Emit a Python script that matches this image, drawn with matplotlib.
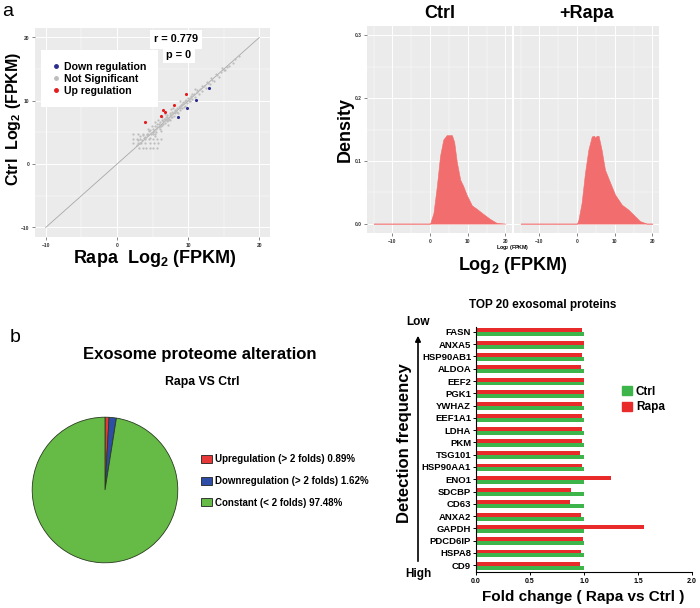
import numpy as np
import matplotlib
matplotlib.use('Agg')
import matplotlib.pyplot as plt
from matplotlib.patches import Patch
from matplotlib.lines import Line2D

plt.rcParams['font.family'] = ['Liberation Sans', 'DejaVu Sans']
plt.rcParams['font.weight'] = 'bold'
plt.rcParams['mathtext.default'] = 'regular'

# ---- panel a: scatter (Rapa vs Ctrl, log2 FPKM) ----
grey_x = [4.2, 4.5, 4.8, 5.0, 5.2, 5.4, 5.5, 5.7, 5.9, 6.0, 6.1, 6.3, 6.4, 6.6, 6.7, 6.9, 7.0, 7.1,
          7.3, 7.4, 7.5, 7.7, 7.8, 8.0, 8.1, 8.2, 8.4, 8.5, 8.7, 8.8, 9.0, 9.1, 9.3, 9.5, 9.6, 9.8,
          10.0, 10.2, 10.4, 10.6, 10.8, 11.0, 11.2, 11.5, 11.7, 12.0, 12.2, 12.5, 12.8, 13.1, 13.4,
          13.7, 14.0, 14.3, 14.6, 15.0, 15.4, 15.8, 16.3, 5.3, 6.2, 7.2, 4.6, 3.8, 3.5, 3.2, 6.8,
          7.9, 8.9, 10.9, 5.8, 4.9,
          4.0, 4.3, 4.7, 5.1, 5.6, 5.9, 6.2, 6.5, 6.8, 7.0, 7.2, 7.5, 7.8, 8.0, 8.3, 8.6, 8.9, 9.2,
          9.4, 9.7, 10.1, 10.5, 11.3, 11.9, 12.6, 13.2, 13.9, 14.8, 15.2, 16.6, 17.2, 5.0, 5.5, 6.0,
          6.5, 7.0, 7.6, 8.2, 8.8, 9.4, 10.3, 6.3, 5.4, 4.4, 7.6, 3.0, 3.3, 2.8, 3.7,
          2.3, 3.0, 3.6, 4.2, 4.8, 5.4,
          2.3, 2.8, 3.3, 3.9, 4.5, 5.1, 5.7, 6.2,
          2.3, 2.9, 3.4, 4.0, 4.6, 5.2, 5.8,
          3.1, 3.6, 4.1, 4.6, 5.1, 5.6]
grey_y = [4.6, 5.2, 4.9, 5.6, 5.3, 6.0, 5.1, 6.3, 5.8, 6.6, 5.5, 6.9, 6.2, 7.1, 6.5, 7.4, 6.8, 7.8,
          7.2, 8.0, 6.9, 7.9, 8.3, 7.6, 8.6, 8.1, 8.9, 8.3, 9.1, 8.6, 9.4, 8.9, 9.8, 9.2, 10.0, 9.6,
          10.4, 9.9, 10.7, 10.3, 11.1, 10.6, 11.4, 11.1, 11.9, 11.6, 12.3, 12.0, 12.8, 12.6, 13.3,
          13.1, 14.0, 13.8, 14.5, 14.8, 15.3, 15.5, 16.0, 4.4, 5.2, 6.2, 4.2, 4.1, 3.8, 3.3, 7.9,
          8.9, 9.9, 11.8, 6.9, 6.0,
          4.3, 4.8, 5.4, 4.8, 5.9, 6.4, 6.0, 6.8, 7.2, 7.5, 7.0, 7.7, 7.4, 8.2, 8.5, 8.0, 9.2, 9.5,
          9.0, 10.2, 10.0, 11.0, 11.7, 12.3, 12.9, 13.6, 14.3, 15.2, 14.9, 16.6, 17.0, 5.0, 5.5, 6.1,
          6.4, 7.1, 7.5, 8.3, 8.9, 9.6, 10.5, 7.5, 6.6, 5.6, 8.7, 3.8, 4.4, 3.1, 4.6,
          4.8, 4.8, 4.8, 4.8, 4.8, 4.8,
          4.0, 4.0, 4.0, 4.0, 4.0, 4.0, 4.0, 4.0,
          3.4, 3.4, 3.4, 3.4, 3.4, 3.4, 3.4,
          2.5, 2.5, 2.5, 2.5, 2.5, 2.5]
up_x = [4.0, 6.2, 6.5, 6.8, 8.0, 9.7]
up_y = [6.7, 7.6, 8.5, 8.2, 9.3, 11.1]
down_x = [8.6, 9.9, 11.1, 13.0]
down_y = [7.4, 8.9, 10.2, 12.0]

# ---- density curves ----
ctrl_dx = [-15, 0, 0.9, 1.8, 2.65, 3.5, 4.4, 5.8, 6.4, 7.1, 8.0, 8.8, 9.7, 11.1, 12.4, 14.1, 15.9, 17.7, 20]
ctrl_dy = [0, 0, 0.017, 0.06, 0.108, 0.134, 0.141, 0.141, 0.130, 0.098, 0.070, 0.060, 0.046, 0.029,
           0.0235, 0.0155, 0.0075, 0.001, 0]
rapa_dx = [-15, 0, 0.35, 1.2, 2.1, 3.0, 3.9, 4.5, 4.8, 5.2, 5.7, 6.5, 7.4, 8.8, 10.1, 11.9, 13.6, 15.4, 16.7, 18.5, 20]
rapa_dy = [0, 0, 0.006, 0.033, 0.081, 0.118, 0.139, 0.140, 0.137, 0.140, 0.140, 0.118, 0.086, 0.065,
           0.046, 0.030, 0.0224, 0.0117, 0.004, 0, 0]

# ---- panel b: pie ----
pie_labels = ['Upregulation (> 2 folds) 0.89%', 'Downregulation (> 2 folds) 1.62%',
              'Constant (< 2 folds) 97.48%']
pie_vals = [0.89, 1.62, 97.48]
pie_cols = ['#E8393A', '#2E4DA7', '#66BB46']

# ---- panel b: top 20 proteins ----
proteins = ['CD9', 'HSPA8', 'PDCD6IP', 'GAPDH', 'ANXA2', 'CD63', 'SDCBP', 'ENO1', 'HSP90AA1', 'TSG101',
            'PKM', 'LDHA', 'EEF1A1', 'YWHAZ', 'PGK1', 'EEF2', 'ALDOA', 'HSP90AB1', 'ANXA5', 'FASN']
rapa_fc = [0.96, 0.97, 0.99, 1.56, 0.97, 0.87, 0.88, 1.25, 0.98, 0.96,
           0.98, 0.98, 0.98, 0.98, 1.00, 1.00, 0.97, 0.98, 1.00, 0.98]
ctrl_fc = [1.0] * 20

W, H = 700, 608
fig = plt.figure(figsize=(7, 6.08), dpi=100)


def rect(l, t, r, b):
    return [l / W, 1 - b / H, (r - l) / W, (b - t) / H]


def gg(ax, xmaj, xmin, ymaj, ymin):
    ax.set_facecolor('#EBEBEB')
    ax.set_xticks(xmaj); ax.set_xticks(xmin, minor=True)
    ax.set_yticks(ymaj); ax.set_yticks(ymin, minor=True)
    ax.grid(True, which='major', color='white', lw=0.7)
    ax.grid(True, which='minor', color='white', lw=0.35)
    ax.set_axisbelow(True)
    for s in ax.spines.values(): s.set_visible(False)
    ax.tick_params(which='major', length=2, width=0.5, color='#555555', labelsize=3.5, pad=2,
                   labelcolor='#333333')
    ax.tick_params(which='minor', length=0)


# scatter
ax = fig.add_axes(rect(35, 28, 270, 237))
gg(ax, [-10, 0, 10, 20], [-5, 5, 15], [-10, 0, 10, 20], [-5, 5, 15])
ax.set_xlim(-11.5, 21.5); ax.set_ylim(-11.5, 21.5)
ax.plot([-10, 20], [-10, 20], color='#A8A8A8', lw=0.6, zorder=2)
ax.scatter(grey_x, grey_y, s=2.5, color='#BDBDBD', zorder=3, lw=0)
ax.scatter(up_x, up_y, s=5, color='#E41A1C', zorder=4, lw=0)
ax.scatter(down_x, down_y, s=5, color='#2B2D8C', zorder=4, lw=0)
hd = [Line2D([], [], ls='', marker='o', ms=2.5, color=c) for c in ['#2B2D8C', '#BDBDBD', '#E41A1C']]
ax.legend(hd, ['Down regulation', 'Not Significant', 'Up regulation'], loc='upper left',
          bbox_to_anchor=(41 / W, 1 - 50 / H), bbox_transform=fig.transFigure, frameon=True,
          fancybox=False, edgecolor='none', facecolor='white', framealpha=1, prop={'size': 7.6, 'weight': 'bold'},
          handlelength=0.6, handletextpad=0.45, labelspacing=0.2, borderpad=1.1, borderaxespad=0)
fig.text(176 / W, 1 - 39.5 / H, 'r = 0.779', ha='center', va='center', fontsize=7.8,
         bbox=dict(facecolor='white', edgecolor='none', pad=3))
fig.text(179 / W, 1 - 54.5 / H, 'p = 0', ha='center', va='center', fontsize=7.8,
         bbox=dict(facecolor='white', edgecolor='none', pad=2.5))
fig.text(14 / W, 1 - 119 / H, 'Ctrl  Log$_2$ (FPKM)', rotation=90, ha='center', va='center', fontsize=11.5)
fig.text(155 / W, 1 - 258 / H, 'Rapa  Log$_2$ (FPKM)', ha='center', va='center', fontsize=13)
fig.text(8 / W, 1 - 12 / H, 'a', ha='center', va='center', fontsize=14, fontweight='normal')

# density facets
for (l, r), dx, dy, ttl in [((367, 512), ctrl_dx, ctrl_dy, 'Ctrl'), ((514, 659), rapa_dx, rapa_dy, '+Rapa')]:
    axd = fig.add_axes(rect(l, 26, r, 233))
    gg(axd, [-10, 0, 10, 20], [-15, -5, 5, 15], [0, 0.1, 0.2, 0.3], [0.05, 0.15, 0.25])
    axd.set_xlim(-16.75, 21.75); axd.set_ylim(-0.015, 0.315)
    axd.fill_between(dx, dy, color='#F26D6D', lw=0.4, edgecolor='#F26D6D')
    axd.set_yticklabels(['0.0', '0.1', '0.2', '0.3'])
    if ttl == '+Rapa':
        axd.tick_params(axis='y', which='both', length=0, labelleft=False)
    fig.text((l + r) / 2 / W, 1 - 13 / H, ttl, ha='center', va='center', fontsize=13)
fig.text(513 / W, 1 - 247.5 / H, 'Log$_2$ (FPKM)', ha='center', va='center', fontsize=3.8)
fig.text(513 / W, 1 - 265 / H, 'Log$_2$ (FPKM)', ha='center', va='center', fontsize=13)
fig.text(345 / W, 1 - 130 / H, 'Density', rotation=90, ha='center', va='center', fontsize=13)

# pie
fig.text(15 / W, 1 - 337 / H, 'b', ha='center', va='center', fontsize=14, fontweight='normal')
fig.text(200 / W, 1 - 355 / H, 'Exosome proteome alteration', ha='center', va='center', fontsize=12)
fig.text(202 / W, 1 - 382 / H, 'Rapa VS Ctrl', ha='center', va='center', fontsize=8.8)
axp = fig.add_axes(rect(14, 399, 196, 581))
axp.pie(pie_vals, colors=pie_cols, startangle=90, counterclock=False,
        wedgeprops=dict(edgecolor='#2A3A20', lw=0.6))
axp.set_aspect('equal')
ph = [Patch(facecolor=c, edgecolor='#222222', lw=0.6) for c in pie_cols]
fig.legend(ph, pie_labels, loc='center left', bbox_to_anchor=(197 / W, 1 - 481 / H), frameon=False,
           prop={'size': 7, 'weight': 'bold'}, handlelength=1.1, handleheight=0.9, handletextpad=0.4,
           labelspacing=1.2, borderaxespad=0)

# top 20 bars
axb = fig.add_axes(rect(476, 327, 692, 572))
yy = np.arange(len(proteins))
axb.barh(yy + 0.12, rapa_fc, height=0.32, color='#E92A2A', label='Rapa')
axb.barh(yy - 0.2, ctrl_fc, height=0.32, color='#3DB54A', label='Ctrl')
axb.set_xlim(0, 2.0); axb.set_ylim(-0.55, 19.4)
axb.set_xticks([0, 0.5, 1.0, 1.5, 2.0]); axb.set_xticklabels(['0.0', '0.5', '1.0', '1.5', '2.0'])
axb.set_yticks(yy); axb.set_yticklabels(proteins)
for s in ['top', 'right']: axb.spines[s].set_visible(False)
for s in ['left', 'bottom']: axb.spines[s].set_linewidth(0.8)
axb.tick_params(axis='y', labelsize=6.8, length=2.5, width=0.7, pad=1)
axb.tick_params(axis='x', labelsize=5, length=2.5, width=0.7, pad=2)
bh = [Patch(color='#3DB54A'), Patch(color='#E92A2A')]
axb.legend(bh, ['Ctrl', 'Rapa'], loc='upper left', bbox_to_anchor=(617 / W, 1 - 381 / H),
           bbox_transform=fig.transFigure, frameon=False, prop={'size': 8.5, 'weight': 'bold'},
           handlelength=0.9, handleheight=0.8, handletextpad=0.3, labelspacing=0.3, borderaxespad=0)
fig.text(543 / W, 1 - 305 / H, 'TOP 20 exosomal proteins', ha='center', va='center', fontsize=8.5)
fig.text(583 / W, 1 - 597 / H, 'Fold change ( Rapa vs Ctrl )', ha='center', va='center', fontsize=11)
fig.text(404 / W, 1 - 443 / H, 'Detection frequency', rotation=90, ha='center', va='center', fontsize=12)
fig.text(418 / W, 1 - 322 / H, 'Low', ha='center', va='center', fontsize=8.5)
fig.text(418 / W, 1 - 574 / H, 'High', ha='center', va='center', fontsize=8.5)
axb.annotate('', xy=(418, H - 333), xytext=(418, H - 564), xycoords='figure pixels',
             textcoords='figure pixels',
             arrowprops=dict(arrowstyle='-|>', color='black', lw=1.2, mutation_scale=8))

fig.savefig('out.png', dpi=100, facecolor='white')
